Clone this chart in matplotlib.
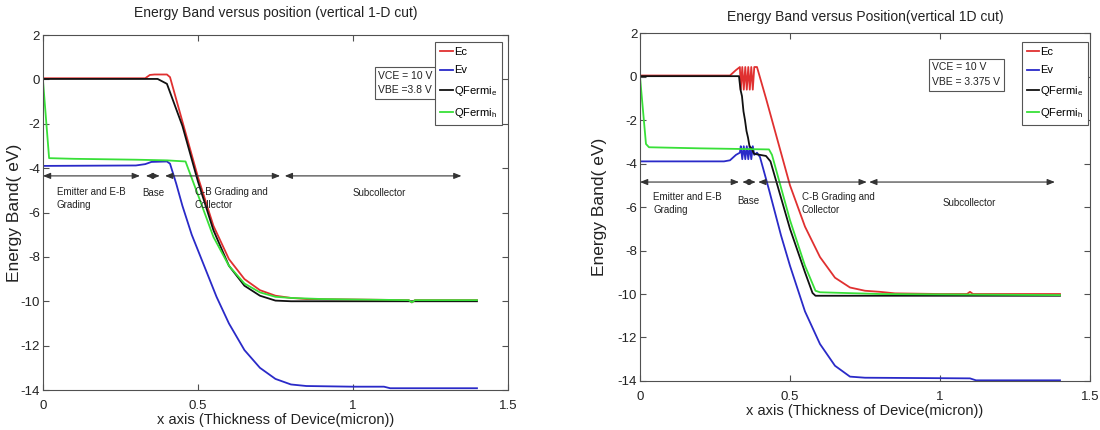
import matplotlib
matplotlib.use("Agg")
import matplotlib.pyplot as plt

plt.rcParams['font.family'] = ['Liberation Sans Narrow', 'Liberation Sans', 'DejaVu Sans']
plt.rcParams['mathtext.fontset'] = 'custom'
plt.rcParams['mathtext.rm'] = 'Liberation Sans'
plt.rcParams['mathtext.it'] = 'Liberation Sans'
plt.rcParams['axes.unicode_minus'] = False

# ---------------- left panel: VBE = 3.8 V ----------------
L_ec_x = [0, 0.33, 0.345, 0.36, 0.40, 0.41, 0.45, 0.50, 0.55, 0.60, 0.65, 0.70, 0.75, 0.80, 0.85, 1.0, 1.18, 1.19, 1.2, 1.4]
L_ec_y = [0.05, 0.05, 0.2, 0.22, 0.22, 0.1, -1.9, -4.4, -6.6, -8.1, -9.0, -9.5, -9.75, -9.85, -9.9, -9.92, -9.95, -10.05, -9.95, -9.95]

L_ev_x = [0, 0.30, 0.33, 0.35, 0.40, 0.41, 0.43, 0.45, 0.48, 0.52, 0.56, 0.60, 0.65, 0.70, 0.75, 0.80, 0.85, 1.0, 1.1, 1.12, 1.4]
L_ev_y = [-3.9, -3.88, -3.82, -3.72, -3.7, -3.8, -4.7, -5.7, -7.0, -8.4, -9.8, -11.0, -12.2, -13.0, -13.5, -13.75, -13.82, -13.85, -13.85, -13.92, -13.92]

L_fe_x = [0, 0.37, 0.40, 0.45, 0.50, 0.55, 0.60, 0.65, 0.70, 0.75, 0.80, 1.4]
L_fe_y = [0.02, 0.02, -0.2, -2.1, -4.6, -6.8, -8.4, -9.3, -9.75, -9.97, -10.0, -10.0]

L_fh_x = [0, 0.02, 0.10, 0.20, 0.30, 0.40, 0.46, 0.50, 0.55, 0.60, 0.65, 0.70, 0.75, 0.80, 0.90, 1.0, 1.18, 1.19, 1.2, 1.4]
L_fh_y = [0.0, -3.55, -3.58, -3.6, -3.62, -3.65, -3.7, -5.2, -7.1, -8.4, -9.2, -9.6, -9.8, -9.85, -9.9, -9.92, -9.95, -10.05, -9.95, -9.95]

# ---------------- right panel: VBE = 3.375 V ----------------
R_ec_x = [0, 0.30, 0.32, 0.333,
          0.336, 0.341, 0.346, 0.351, 0.356, 0.361, 0.366, 0.371, 0.376, 0.381,
          0.39, 0.42, 0.45, 0.50, 0.55, 0.60, 0.65, 0.70, 0.75, 0.80, 0.85, 1.0, 1.09, 1.1, 1.11, 1.4]
R_ec_y = [0.05, 0.05, 0.3, 0.44,
          -0.6, 0.44, -0.6, 0.44, -0.6, 0.44, -0.6, 0.44, -0.6, 0.44,
          0.44, -1.0, -2.5, -5.0, -6.9, -8.3, -9.25, -9.7, -9.85, -9.9, -9.97, -10.0, -10.0, -9.9, -10.0, -10.0]

R_ev_x = [0, 0.28, 0.30, 0.32, 0.333,
          0.336, 0.341, 0.346, 0.351, 0.356, 0.361, 0.366, 0.371, 0.376, 0.381,
          0.39, 0.40, 0.43, 0.47, 0.50, 0.55, 0.60, 0.65, 0.70, 0.75, 1.1, 1.12, 1.4]
R_ev_y = [-3.9, -3.9, -3.85, -3.6, -3.5,
          -3.2, -3.8, -3.2, -3.8, -3.2, -3.8, -3.2, -3.8, -3.2, -3.6,
          -3.5, -3.7, -5.2, -7.3, -8.7, -10.8, -12.3, -13.3, -13.8, -13.85, -13.88, -13.97, -13.97]

R_fe_x = [0, 0.33, 0.335, 0.34, 0.345, 0.35, 0.355, 0.36, 0.365, 0.372, 0.38, 0.42, 0.435, 0.50, 0.55, 0.575, 0.585, 1.4]
R_fe_y = [0.02, 0.02, -0.6, -0.9, -1.6, -2.0, -2.5, -2.8, -3.2, -3.3, -3.55, -3.65, -3.9, -7.0, -9.0, -9.95, -10.08, -10.08]

R_fh_x = [0, 0.02, 0.03, 0.20, 0.43, 0.44, 0.50, 0.55, 0.585, 0.60, 0.80, 1.4]
R_fh_y = [0.0, -3.1, -3.25, -3.3, -3.35, -3.6, -6.6, -8.7, -9.85, -9.92, -10.0, -10.05]

series_names = ['Ec', 'Ev', 'QFermi$_\\mathrm{e}$', 'QFermi$_\\mathrm{h}$']
series_colors = ['#e03030', '#2a2ac8', '#111111', '#38e038']

region_names = ['Emitter and E-B\nGrading', 'Base', 'C-B Grading and\nCollector', 'Subcollector']
L_region_spans = [(0.0, 0.313), (0.332, 0.377), (0.394, 0.765), (0.78, 1.35)]
R_region_spans = [(0.0, 0.33), (0.341, 0.386), (0.394, 0.756), (0.764, 1.383)]

x_ticks = [0, 0.5, 1, 1.5]
y_ticks = [-14, -12, -10, -8, -6, -4, -2, 0, 2]

fig = plt.figure(figsize=(11, 4.3), dpi=100)
axL = fig.add_axes([0.039, 0.093, 0.4228, 0.8256])
axR = fig.add_axes([0.5818, 0.114, 0.4091, 0.809])

spine_col = '#505050'


def style_axes(ax, title, title_pad, ylabel_pad):
    ax.set_xlim(0, 1.5)
    ax.set_ylim(-14, 2)
    ax.set_xticks(x_ticks)
    ax.set_xticklabels(['0', '0.5', '1', '1.5'])
    ax.set_yticks(y_ticks)
    ax.tick_params(direction='in', top=True, right=True, length=4, width=0.8, pad=2,
                   colors=spine_col, labelcolor='#222222', labelsize=9.5)
    ax.tick_params(axis='x', pad=7)
    for s in ax.spines.values():
        s.set_color(spine_col)
        s.set_linewidth(0.8)
    ax.set_title(title, fontsize=10, color='#222222', pad=title_pad)
    ax.set_xlabel('x axis (Thickness of Device(micron))', fontsize=10.5, color='#222222', labelpad=1)
    ax.set_ylabel('Energy Band( eV)', fontsize=12.5, color='#222222', labelpad=ylabel_pad)


def draw_panel(ax, curves, spans, arrow_y, label_pos, vtext, vpos, leg_anchor):
    handles = []
    for (xs, ys), name, col in zip(curves, series_names, series_colors):
        h, = ax.plot(xs, ys, color=col, lw=1.3, label=name)
        handles.append(h)
    for (a, b) in spans:
        ax.annotate('', xy=(b, arrow_y), xytext=(a, arrow_y),
                    arrowprops=dict(arrowstyle='<|-|>,head_length=0.45,head_width=0.18',
                                    color='#333333', lw=0.8, shrinkA=0, shrinkB=0))
    for name, (tx, ty, va) in zip(region_names, label_pos):
        ax.text(tx, ty, name, fontsize=7, color='#222222', va=va, ha='left', linespacing=1.35)
    ax.text(vpos[0], vpos[1], vtext, fontsize=7.5, color='#222222', va='top', ha='left',
            linespacing=1.6,
            bbox=dict(boxstyle='square,pad=0.35', fc='white', ec='#555555', lw=0.8))
    leg = ax.legend(handles=handles, loc='upper right', bbox_to_anchor=leg_anchor,
                    fontsize=8, handlelength=1.1, handletextpad=0.1, borderpad=0.45,
                    borderaxespad=0.0, labelspacing=0.75, fancybox=False, framealpha=1,
                    edgecolor='#555555')
    leg.get_frame().set_linewidth(0.8)


style_axes(axL, 'Energy Band versus position (vertical 1-D cut)', 13, -1)
draw_panel(axL,
           [(L_ec_x, L_ec_y), (L_ev_x, L_ev_y), (L_fe_x, L_fe_y), (L_fh_x, L_fh_y)],
           L_region_spans, -4.35,
           [(0.045, -4.85, 'top'), (0.32, -5.1, 'center'), (0.49, -4.85, 'top'), (1.0, -5.1, 'center')],
           'VCE = 10 V\nVBE =3.8 V', (1.082, 0.4), (0.987, 0.98))

style_axes(axR, 'Energy Band versus Position(vertical 1D cut)', 9, 8)
draw_panel(axR,
           [(R_ec_x, R_ec_y), (R_ev_x, R_ev_y), (R_fe_x, R_fe_y), (R_fh_x, R_fh_y)],
           R_region_spans, -4.85,
           [(0.045, -5.3, 'top'), (0.323, -5.7, 'center'), (0.539, -5.3, 'top'), (1.01, -5.8, 'center')],
           'VCE = 10 V\nVBE = 3.375 V', (0.975, 0.65), (0.996, 0.974))

fig.savefig('out.png', dpi=100)
